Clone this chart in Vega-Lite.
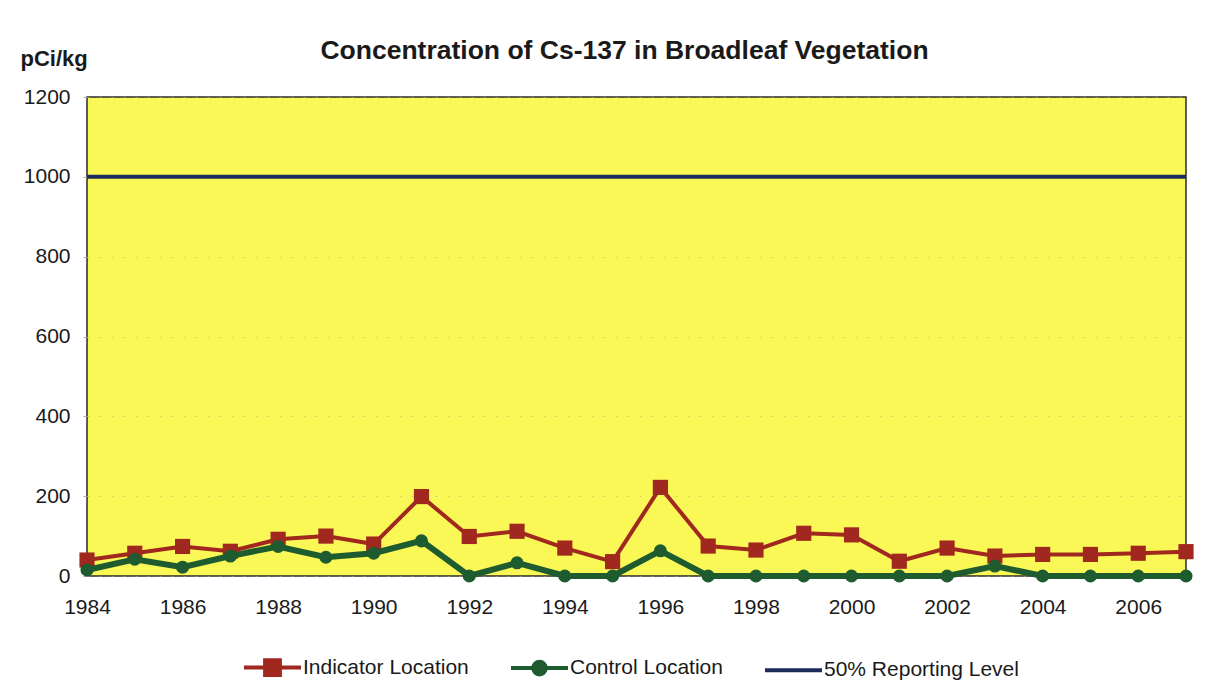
{
  "$schema": "https://vega.github.io/schema/vega-lite/v6.json",
  "width": 1099,
  "height": 479,
  "autosize": {"type": "none"},
  "padding": {"left": 87, "top": 97, "right": 24, "bottom": 114},
  "background": "white",
  "config": {
    "font": "Liberation Sans",
    "view": {"fill": "#FAF857", "stroke": "#2b2b2b", "strokeWidth": 1.5},
    "legend": {
      "labelFont": "Liberation Sans",
      "labelFontSize": 21,
      "labelColor": "#1a1a1a",
      "labelLimit": 400,
      "symbolSize": 3249,
      "symbolStrokeWidth": 4,
      "labelOffset": 0,
      "columnPadding": 34
    }
  },
  "title": {
    "text": "Concentration of Cs-137 in Broadleaf Vegetation",
    "fontSize": 26.5,
    "fontWeight": "bold",
    "color": "#1a1a1a",
    "anchor": "middle",
    "frame": "group",
    "offset": -17,
    "dx": -12
  },
  "data": {
    "values": [
      {"year": 1984, "series": "Indicator Location", "value": 40},
      {"year": 1985, "series": "Indicator Location", "value": 57},
      {"year": 1986, "series": "Indicator Location", "value": 74},
      {"year": 1987, "series": "Indicator Location", "value": 62},
      {"year": 1988, "series": "Indicator Location", "value": 92},
      {"year": 1989, "series": "Indicator Location", "value": 100},
      {"year": 1990, "series": "Indicator Location", "value": 80},
      {"year": 1991, "series": "Indicator Location", "value": 199},
      {"year": 1992, "series": "Indicator Location", "value": 99},
      {"year": 1993, "series": "Indicator Location", "value": 112},
      {"year": 1994, "series": "Indicator Location", "value": 70},
      {"year": 1995, "series": "Indicator Location", "value": 36},
      {"year": 1996, "series": "Indicator Location", "value": 222},
      {"year": 1997, "series": "Indicator Location", "value": 75},
      {"year": 1998, "series": "Indicator Location", "value": 65},
      {"year": 1999, "series": "Indicator Location", "value": 107},
      {"year": 2000, "series": "Indicator Location", "value": 103},
      {"year": 2001, "series": "Indicator Location", "value": 37},
      {"year": 2002, "series": "Indicator Location", "value": 70},
      {"year": 2003, "series": "Indicator Location", "value": 50},
      {"year": 2004, "series": "Indicator Location", "value": 54},
      {"year": 2005, "series": "Indicator Location", "value": 54},
      {"year": 2006, "series": "Indicator Location", "value": 57},
      {"year": 2007, "series": "Indicator Location", "value": 61},
      {"year": 1984, "series": "Control Location", "value": 15},
      {"year": 1985, "series": "Control Location", "value": 42},
      {"year": 1986, "series": "Control Location", "value": 22},
      {"year": 1987, "series": "Control Location", "value": 50},
      {"year": 1988, "series": "Control Location", "value": 74},
      {"year": 1989, "series": "Control Location", "value": 47},
      {"year": 1990, "series": "Control Location", "value": 57},
      {"year": 1991, "series": "Control Location", "value": 88},
      {"year": 1992, "series": "Control Location", "value": 0},
      {"year": 1993, "series": "Control Location", "value": 33},
      {"year": 1994, "series": "Control Location", "value": 0},
      {"year": 1995, "series": "Control Location", "value": 0},
      {"year": 1996, "series": "Control Location", "value": 63},
      {"year": 1997, "series": "Control Location", "value": 0},
      {"year": 1998, "series": "Control Location", "value": 0},
      {"year": 1999, "series": "Control Location", "value": 0},
      {"year": 2000, "series": "Control Location", "value": 0},
      {"year": 2001, "series": "Control Location", "value": 0},
      {"year": 2002, "series": "Control Location", "value": 0},
      {"year": 2003, "series": "Control Location", "value": 25},
      {"year": 2004, "series": "Control Location", "value": 0},
      {"year": 2005, "series": "Control Location", "value": 0},
      {"year": 2006, "series": "Control Location", "value": 0},
      {"year": 2007, "series": "Control Location", "value": 0},
      {"year": 1984, "series": "50% Reporting Level", "value": 1000},
      {"year": 2007, "series": "50% Reporting Level", "value": 1000}
    ]
  },
  "encoding": {
    "x": {
      "field": "year",
      "type": "quantitative",
      "scale": {"domain": [1984, 2007], "nice": false, "zero": false},
      "axis": {
        "title": null,
        "values": [1984, 1986, 1988, 1990, 1992, 1994, 1996, 1998, 2000, 2002, 2004, 2006],
        "format": "d",
        "grid": false,
        "domain": false,
        "ticks": false,
        "labelFlush": false,
        "labelOverlap": false,
        "labelPadding": 20,
        "labelFontSize": 21,
        "labelColor": "#1a1a1a",
        "labelFont": "Liberation Sans"
      }
    },
    "y": {
      "field": "value",
      "type": "quantitative",
      "scale": {"domain": [0, 1200], "nice": false},
      "axis": {
        "values": [0, 200, 400, 600, 800, 1000, 1200],
        "format": "d",
        "title": "pCi/kg",
        "titleAngle": 0,
        "titleX": -67,
        "titleY": -39,
        "titleAlign": "left",
        "titleBaseline": "middle",
        "titleFontWeight": "bold",
        "titleFontSize": 22,
        "titleColor": "#1a1a1a",
        "titleFont": "Liberation Sans",
        "domain": false,
        "tickSize": 4,
        "tickColor": "#aaaaaa",
        "labelFlush": false,
        "labelPadding": 13,
        "labelFontSize": 21,
        "labelColor": "#1a1a1a",
        "labelFont": "Liberation Sans",
        "grid": true,
        "gridColor": "#bdb968",
        "gridOpacity": 0.6,
        "gridDash": [2, 10]
      }
    },
    "color": {
      "field": "series",
      "type": "nominal",
      "scale": {
        "domain": ["Indicator Location", "Control Location", "50% Reporting Level"],
        "range": ["#A0281F", "#1E5C30", "#1C2A5C"]
      },
      "legend": {
        "title": null,
        "orient": "none",
        "direction": "horizontal",
        "legendX": 155,
        "legendY": 540,
        "symbolSize": 3249,
        "symbolStrokeWidth": 4,
        "labelLimit": 400,
        "encode": {
          "symbols": {
            "update": {
              "shape": {"signal": "datum.value === 'Indicator Location' ? 'M-1,0H1M-0.26,-0.26H0.26V0.26H-0.26Z' : (datum.value === 'Control Location' ? 'M-1,0H1M-0.22,0A0.22,0.22,0,1,0,0.22,0A0.22,0.22,0,1,0,-0.22,0Z' : 'M-1,0H1')"},
              "fill": {"signal": "scale('color', datum.value)"},
              "stroke": {"signal": "scale('color', datum.value)"},
              "opacity": {"value": 1},
              "fillOpacity": {"value": 1}
            }
          }
        }
      }
    }
  },
  "layer": [
    {
      "transform": [{"filter": "datum.series === 'Indicator Location'"}],
      "mark": {"type": "line", "strokeWidth": 4}
    },
    {
      "transform": [{"filter": "datum.series === 'Indicator Location'"}],
      "mark": {"type": "point", "shape": "square", "filled": true, "size": 230, "opacity": 1}
    },
    {
      "transform": [{"filter": "datum.series === 'Control Location'"}],
      "mark": {"type": "line", "strokeWidth": 6}
    },
    {
      "transform": [{"filter": "datum.series === 'Control Location'"}],
      "mark": {"type": "point", "shape": "circle", "filled": true, "size": 170, "opacity": 1}
    },
    {
      "transform": [{"filter": "datum.series === '50% Reporting Level'"}],
      "mark": {"type": "line", "strokeWidth": 4}
    }
  ]
}
